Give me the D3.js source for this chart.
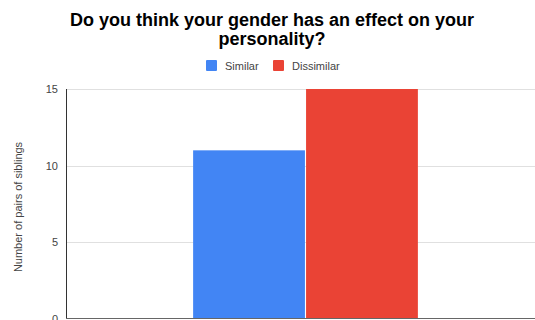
<!DOCTYPE html>
<html>
<head>
<meta charset="utf-8">
<script src="https://cdn.jsdelivr.net/npm/d3@7"></script>
<style>
  html, body { margin: 0; padding: 0; background: #fff; overflow: hidden; }
  svg { display: block; font-family: "Liberation Sans", Arial, sans-serif; }
</style>
</head>
<body>
<svg id="chart" width="535" height="320"></svg>
<script>
// Survey answers: number of sibling pairs by response
const categories = [""];
const seriesNames = ["Similar", "Dissimilar"];
const similarValues = [11];
const dissimilarValues = [15];
const seriesColors = ["#4285F4", "#EA4335"];
const yTicks = [0, 5, 10, 15];
const titleLines = ["Do you think your gender has an effect on your", "personality?"];
const yAxisTitle = "Number of pairs of siblings";

const svg = d3.select("#chart");
// The plot area runs a little past the right edge of the view
const margin = { left: 66, right: -10, top: 89, bottom: 1 };
const W = 535, H = 320;

const x0 = d3.scaleBand().domain(categories).range([margin.left, W - margin.right]).paddingInner(0).paddingOuter(0.555);
const x1 = d3.scaleBand().domain(seriesNames).range([0, x0.bandwidth()]).padding(0.01);
const y = d3.scaleLinear().domain([0, 15]).range([H - margin.bottom, margin.top]);

// Title
svg.append("g").selectAll("text").data(titleLines).join("text")
  .attr("x", 272).attr("y", (d, i) => 26 + i * 18.5)
  .attr("text-anchor", "middle")
  .attr("font-size", 18).attr("font-weight", "bold").attr("fill", "#000")
  .text(d => d);

// Legend
const legend = svg.append("g");
const legendItems = [{ x: 206, tx: 225 }, { x: 273, tx: 292 }];
seriesNames.forEach((name, i) => {
  legend.append("rect").attr("x", legendItems[i].x).attr("y", 60).attr("width", 11).attr("height", 11)
    .attr("rx", 1).attr("fill", seriesColors[i]);
  legend.append("text").attr("x", legendItems[i].tx).attr("y", 69.5)
    .attr("font-size", 11).attr("fill", "#444").text(name);
});

// Gridlines
svg.append("g").selectAll("line").data(yTicks.filter(t => t > 0)).join("line")
  .attr("x1", margin.left).attr("x2", W)
  .attr("y1", d => Math.round(y(d)) + 0.5).attr("y2", d => Math.round(y(d)) + 0.5)
  .attr("stroke", "#e0e0e0").attr("stroke-width", 1);

// Y axis tick labels
const yAxis = d3.axisLeft(y).tickValues(yTicks).tickSize(0).tickPadding(8);
const gy = svg.append("g").attr("transform", `translate(${margin.left},0)`).call(yAxis);
gy.select(".domain").remove();
gy.selectAll("text").attr("font-size", 11).attr("fill", "#444")
  .attr("font-family", "'Liberation Sans', Arial, sans-serif");

// Bars
const rows = categories.map((c, i) => ({ cat: c, values: [similarValues[i], dissimilarValues[i]] }));
const groups = svg.append("g").selectAll("g").data(rows).join("g")
  .attr("transform", d => `translate(${x0(d.cat)},0)`);
groups.selectAll("rect").data(d => d.values.map((v, i) => ({ name: seriesNames[i], v, i }))).join("rect")
  .attr("x", d => x1(d.name))
  .attr("width", x1.bandwidth())
  .attr("y", d => y(d.v))
  .attr("height", d => y(0) - y(d.v))
  .attr("fill", d => seriesColors[d.i]);

// Axis lines
svg.append("line").attr("x1", margin.left + 0.5).attr("x2", margin.left + 0.5)
  .attr("y1", y(15)).attr("y2", y(0)).attr("stroke", "#333").attr("stroke-width", 1);
svg.append("line").attr("x1", margin.left).attr("x2", W)
  .attr("y1", y(0) - 0.5).attr("y2", y(0) - 0.5).attr("stroke", "#666").attr("stroke-width", 1);

// Y axis title
svg.append("text")
  .attr("transform", `translate(22,${(y(0) + y(15)) / 2 + 3}) rotate(-90)`)
  .attr("text-anchor", "middle").attr("font-size", 11).attr("fill", "#444")
  .text(yAxisTitle);
</script>
</body>
</html>
